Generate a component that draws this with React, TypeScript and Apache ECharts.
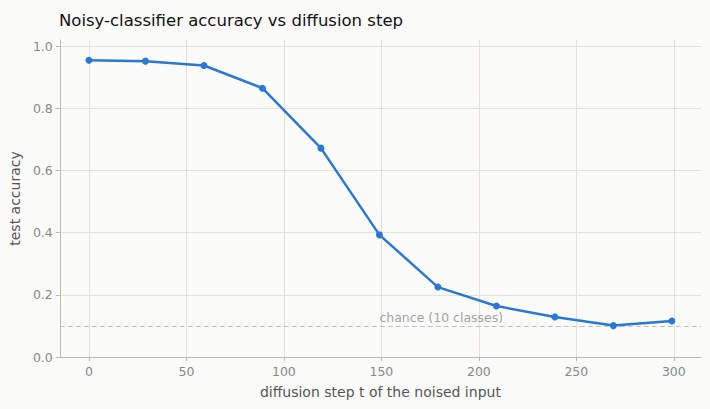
import React, { useEffect, useRef } from 'react';
import * as echarts from 'echarts';

// diffusion step t and the classifier's test accuracy at that step
const steps = [0, 29, 59, 89, 119, 149, 179, 209, 239, 269, 299];
const accuracy = [0.955, 0.952, 0.938, 0.865, 0.672, 0.393, 0.225, 0.164, 0.129, 0.101, 0.116];
const chanceLevel = 0.1;
const chanceLabel = 'chance (10 classes)';
const chanceLabelStep = 149;

const FONT = 'DejaVu Sans';

export default function App() {
  const chartRef = useRef<HTMLDivElement>(null);

  useEffect(() => {
    const chart = echarts.init(chartRef.current!, undefined, { renderer: 'svg' });

    const option = {
      animation: false,
      backgroundColor: '#fbfbfa',
      title: {
        text: 'Noisy-classifier accuracy vs diffusion step',
        left: 54,
        top: 7,
        textStyle: { fontFamily: FONT, fontSize: 16.5, fontWeight: 'normal', color: '#111' },
      },
      grid: { left: 59, right: 9, top: 40, bottom: 52, containLabel: false },
      xAxis: {
        type: 'value',
        min: -14.95,
        max: 313.95,
        splitNumber: 6,
        name: 'diffusion step t of the noised input',
        nameLocation: 'middle',
        nameGap: 28,
        nameTextStyle: { fontFamily: FONT, fontSize: 14, color: '#555' },
        axisLine: { show: true, onZero: false, lineStyle: { color: '#bbbbb5', width: 1 } },
        axisTick: { show: true, length: 4, lineStyle: { color: '#bbbbb5' } },
        axisLabel: {
          fontFamily: FONT,
          fontSize: 12.5,
          color: '#888',
          margin: 8,
          showMinLabel: false,
          showMaxLabel: false,
          formatter: (v: number) => (Number.isInteger(v) ? String(v) : ''),
        },
        splitLine: { show: true, showMinLine: false, showMaxLine: false, lineStyle: { color: '#e2e2da', width: 1 } },
      },
      yAxis: {
        type: 'value',
        min: 0,
        max: 1.02,
        interval: 0.2,
        name: 'test accuracy',
        nameLocation: 'middle',
        nameGap: 36,
        nameTextStyle: { fontFamily: FONT, fontSize: 14, color: '#555' },
        axisLine: { show: true, onZero: false, lineStyle: { color: '#bbbbb5', width: 1 } },
        axisTick: { show: true, length: 4, lineStyle: { color: '#bbbbb5' } },
        axisLabel: {
          fontFamily: FONT,
          fontSize: 12.5,
          color: '#888',
          margin: 7,
          showMaxLabel: false,
          formatter: (v: number) => v.toFixed(1),
        },
        splitLine: { show: true, showMaxLine: false, lineStyle: { color: '#e2e2da', width: 1 } },
      },
      series: [
        {
          type: 'line',
          data: steps.map((s, i) => [s, accuracy[i]]),
          symbol: 'circle',
          symbolSize: 7,
          lineStyle: { color: '#2a78d6', width: 2.5 },
          itemStyle: { color: '#2a78d6' },
          z: 5,
          markLine: {
            silent: true,
            symbol: 'none',
            label: { show: false },
            lineStyle: { color: '#c2c2bc', type: [5, 3], width: 1 },
            data: [{ yAxis: chanceLevel }],
          },
        },
        {
          type: 'scatter',
          data: [[chanceLabelStep, chanceLevel]],
          symbolSize: 0,
          silent: true,
          label: {
            show: true,
            position: 'top',
            align: 'left',
            distance: 2,
            formatter: chanceLabel,
            fontFamily: FONT,
            fontSize: 12.5,
            color: '#888',
          },
          z: 3,
        },
      ],
    };

    chart.setOption(option);

    return () => {
      chart.dispose();
    };
  }, []);

  return (
    <div style={{ position: 'absolute', left: 0, top: 0, width: 710, height: 409 }}>
      <div ref={chartRef} style={{ width: '710px', height: '409px' }} />
    </div>
  );
}
